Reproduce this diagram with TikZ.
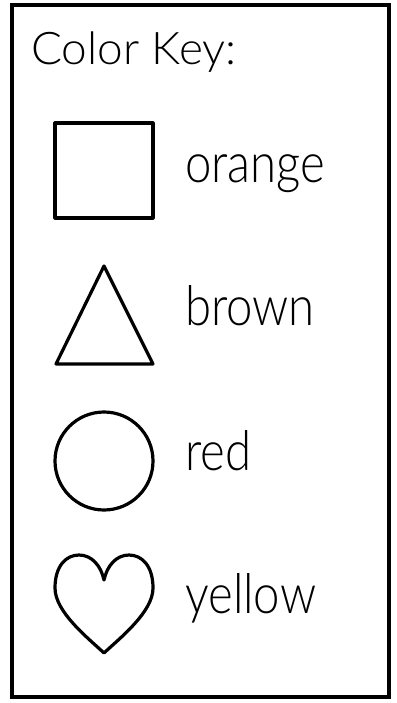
\documentclass[tikz,border=0pt]{standalone}
\usepackage{fontspec}
\setmainfont{Lato}[UprightFont={* Light}]
\begin{document}
\begin{tikzpicture}[x=1pt,y=-1pt,
  shp/.style={draw=black,line width=3.2pt,line join=round},
  lbl/.style={anchor=base west,inner sep=0pt,font=\fontsize{55}{60}\selectfont,xscale=0.86},
  ttl/.style={anchor=base west,inner sep=0pt,font=\fontsize{45}{50}\selectfont,xscale=1.02}]
\useasboundingbox (0,0) rectangle (396,703);
\draw[line width=3.5pt] (12,5) rectangle (389,697);
\node[ttl] (title) at (31,65) {Color Key:};
\draw[shp] (55,123) rectangle (153,218);
\draw[shp] (104,266) -- (153,364) -- (56,364) -- cycle;
\draw[shp] (104,461) circle (49);
\draw[shp] (104,653) .. controls (88,638) and (55,612) .. (55,588)
  .. controls (55,566) and (66,555) .. (79,555)
  .. controls (92,555) and (101,566) .. (104,580)
  .. controls (107,566) and (116,555) .. (129,555)
  .. controls (142,555) and (153,566) .. (153,588)
  .. controls (153,612) and (120,638) .. (104,653) -- cycle;
\node[lbl] (orange) at (185,183) {orange};
\node[lbl] (brown) at (185,325) {brown};
\node[lbl] (red) at (185,470) {red};
\node[lbl] (yellow) at (185,613) {yellow};
\end{tikzpicture}
\end{document}
